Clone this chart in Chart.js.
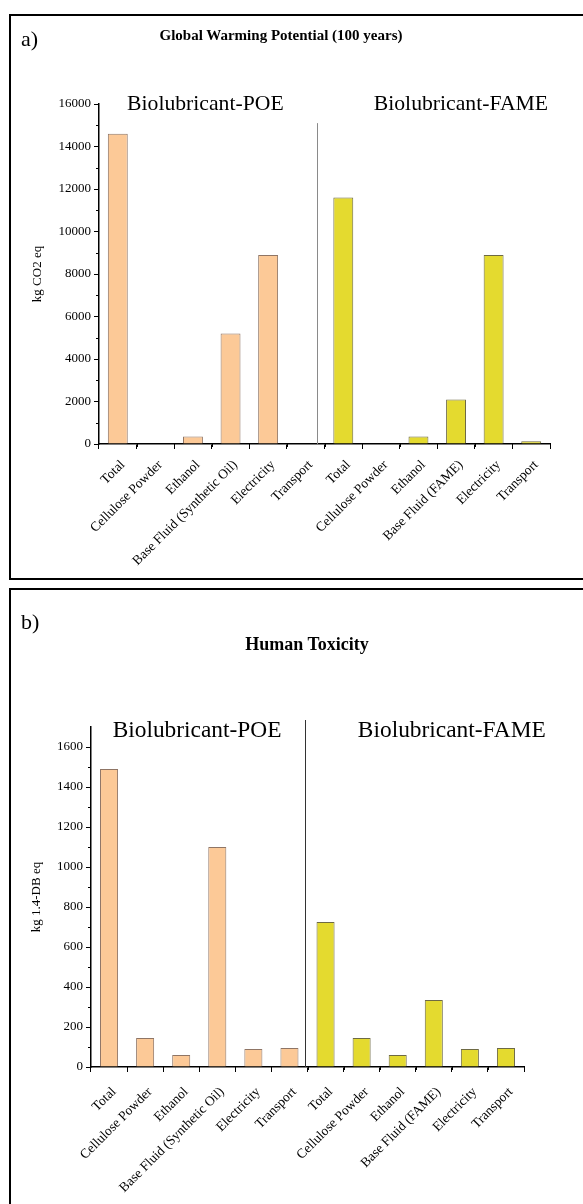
<!DOCTYPE html>
<html>
<head>
<meta charset="utf-8">
<script src="https://cdn.jsdelivr.net/npm/chart.js@4.4.0/dist/chart.umd.min.js"></script>
<style>
  body { margin: 0; background: #fff; width: 583px; height: 1204px; overflow: hidden; position: relative;
         font-family: 'Liberation Serif', 'Times New Roman', serif; color: #000; }
  .panel { position: absolute; left: 9px; width: 600px; border: 2px solid #000; box-sizing: border-box; }
  #panelA { top: 14px; height: 566px; }
  #panelB { top: 588px; height: 640px; }
  .lienzo { position: absolute; left: 0; top: 0; width: 572px; }
  #panelA .lienzo { height: 562px; }
  #panelB .lienzo { height: 614px; }
  .letra { position: absolute; font-size: 22px; line-height: 24px; }
  .titulo { position: absolute; left: 0; text-align: center; font-weight: bold; white-space: nowrap; }
</style>
</head>
<body>
<div class="panel" id="panelA">
  <div class="lienzo"><canvas id="chartGWP"></canvas></div>
  <div class="letra" style="left:10px; top:11px;">a)</div>
  <div class="titulo" style="width:540px; top:10px; font-size:15px; line-height:18px;">Global Warming Potential (100 years)</div>
</div>
<div class="panel" id="panelB">
  <div class="lienzo"><canvas id="chartHT"></canvas></div>
  <div class="letra" style="left:10px; top:20px;">b)</div>
  <div class="titulo" style="width:592px; top:43px; font-size:18px; line-height:22px;">Human Toxicity</div>
</div>

<script>
const FUENTE = "'Liberation Serif', 'Times New Roman', serif";

// Etiquetas del eje X (mismo orden en los dos graficos)
const etapasPOE = ['Total', 'Cellulose Powder', 'Ethanol', 'Base Fluid (Synthetic Oil)', 'Electricity', 'Transport'];
const etapasFAME = ['Total', 'Cellulose Powder', 'Ethanol', 'Base Fluid (FAME)', 'Electricity', 'Transport'];
const grupos = ['Biolubricant-POE', 'Biolubricant-FAME'];

// a) Global Warming Potential, kg CO2 eq
const gwpPOE = [14600, 0, 350, 5200, 8900, 0];
const gwpFAME = [11600, 0, 350, 2100, 8900, 130];

// b) Human Toxicity, kg 1.4-DB eq
const htPOE = [1490, 145, 60, 1100, 90, 95];
const htFAME = [725, 145, 60, 335, 90, 95];

const colorPOE = '#FCC997', bordePOE = '#8F7565';
const colorFAME = '#E4DA2F', bordeFAME = '#6E6A44';

// --- Plugin: ticks menores, linea separadora y nombres de grupo ---
const extras = {
    id: 'extras',
    afterDraw(chart, args, opts) {
        const { ctx, chartArea, scales: { x, y } } = chart;
        ctx.save();
        ctx.strokeStyle = '#000';
        ctx.lineWidth = 1;

        // ticks menores eje Y
        for (let v = opts.menorY; v < y.max; v += opts.menorY * 2) {
            const py = Math.round(y.getPixelForValue(v)) + 0.5;
            ctx.beginPath();
            ctx.moveTo(chartArea.left - 3, py);
            ctx.lineTo(chartArea.left, py);
            ctx.stroke();
        }
        // ticks menores eje X (entre categorias)
        for (let i = 0; i < x.ticks.length; i++) {
            const px = Math.round((x.getPixelForValue(i) + x.getPixelForValue(i + 1)) / 2) + 0.5;
            ctx.beginPath();
            ctx.moveTo(px, chartArea.bottom);
            ctx.lineTo(px, chartArea.bottom + 3);
            ctx.stroke();
        }

        // linea que separa POE de FAME
        const sx = Math.round(x.getPixelForValue(opts.separador)) + 0.5;
        ctx.strokeStyle = opts.colorSeparador;
        ctx.beginPath();
        ctx.moveTo(sx, y.getPixelForValue(opts.topeSeparador));
        ctx.lineTo(sx, chartArea.bottom);
        ctx.stroke();

        // nombres de grupo
        ctx.fillStyle = '#000';
        ctx.font = opts.tamGrupo + 'px ' + FUENTE;
        ctx.textAlign = 'center';
        ctx.textBaseline = 'middle';
        opts.grupos.forEach(g => {
            ctx.fillText(g.texto, x.getPixelForValue(g.en), y.getPixelForValue(g.alto));
        });
        ctx.restore();
    }
};

function crearGrafico(id, cfg) {
    const etiquetas = etapasPOE.concat(etapasFAME);
    const valores = cfg.poe.concat(cfg.fame);
    const fondos = valores.map((v, i) => i < 6 ? colorPOE : colorFAME);
    const bordes = valores.map((v, i) => i < 6 ? bordePOE : bordeFAME);

    return new Chart(document.getElementById(id), {
        type: 'bar',
        data: {
            labels: etiquetas,
            datasets: [{
                data: valores,
                backgroundColor: fondos,
                borderColor: bordes,
                borderWidth: 1,
                barPercentage: cfg.anchoBarra,
                categoryPercentage: 1
            }]
        },
        plugins: [extras],
        options: {
            responsive: true, maintainAspectRatio: false,
            animation: false,
            layout: { padding: { top: cfg.padTop, right: cfg.padRight, left: 0, bottom: 0 } },
            plugins: {
                legend: { display: false },
                tooltip: { enabled: false },
                extras: cfg.extras
            },
            scales: {
                x: {
                    ticks: {
                        autoSkip: false, minRotation: 45, maxRotation: 45,
                        color: '#000', padding: cfg.padEtiquetaX, labelOffset: 5,
                        font: { family: FUENTE, size: 13.5 }
                    },
                    grid: { drawOnChartArea: false, drawTicks: true, tickLength: 5, color: '#000' },
                    border: { display: true, color: '#000', width: 1.5 },
                    afterFit: s => { s.height = cfg.altoX; }
                },
                y: {
                    min: 0, max: cfg.maxY,
                    ticks: {
                        stepSize: cfg.pasoY, color: '#000', padding: 3,
                        font: { family: FUENTE, size: 13 },
                        callback: v => String(v)
                    },
                    afterBuildTicks: s => { s.ticks = s.ticks.filter(t => t.value % cfg.pasoY === 0); },
                    grid: { drawOnChartArea: false, drawTicks: true, tickLength: 5, color: '#000' },
                    border: { display: true, color: '#000', width: 1.5 },
                    title: {
                        display: true, text: cfg.tituloY, color: '#000',
                        font: { family: FUENTE, size: 13 },
                        padding: { top: cfg.padTituloY, bottom: 0 }
                    },
                    afterFit: s => { s.width = cfg.anchoY; }
                }
            }
        }
    });
}

crearGrafico('chartGWP', {
    poe: gwpPOE, fame: gwpFAME,
    maxY: 16000, pasoY: 2000, tituloY: 'kg CO2 eq',
    anchoBarra: 0.53, padTop: 88, padRight: 33, anchoY: 88, altoX: 134, padTituloY: 19, padEtiquetaX: 8,
    extras: {
        menorY: 1000, separador: 5.3, topeSeparador: 15100, colorSeparador: '#8a8a8a', tamGrupo: 21.7,
        grupos: [
            { texto: grupos[0], en: 2.33, alto: 16000 },
            { texto: grupos[1], en: 9.13, alto: 16000 }
        ]
    }
});

crearGrafico('chartHT', {
    poe: htPOE, fame: htFAME,
    maxY: 1700, pasoY: 200, tituloY: 'kg 1.4-DB eq',
    anchoBarra: 0.5, padTop: 137, padRight: 59, anchoY: 80, altoX: 137, padTituloY: 18, padEtiquetaX: 12,
    extras: {
        menorY: 100, separador: 5.43, topeSeparador: 1735, colorSeparador: '#333', tamGrupo: 23.4,
        grupos: [
            { texto: grupos[0], en: 2.44, alto: 1680 },
            { texto: grupos[1], en: 9.5, alto: 1680 }
        ]
    }
});
</script>
</body>
</html>
